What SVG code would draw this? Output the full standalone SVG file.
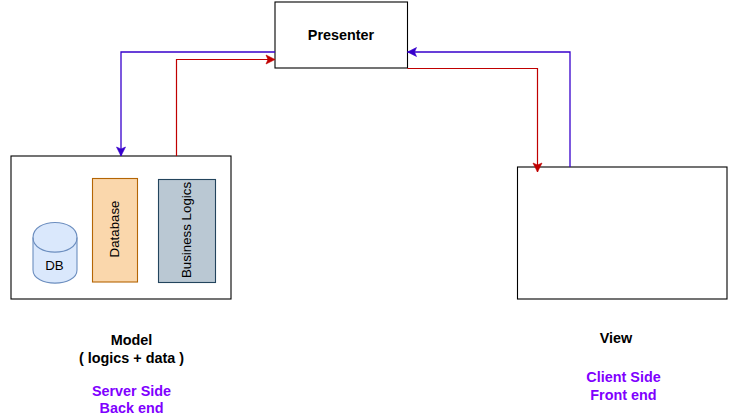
<svg xmlns="http://www.w3.org/2000/svg" width="736" height="413" viewBox="0 0 736 413">
<defs>
<marker id="ab" markerUnits="userSpaceOnUse" markerWidth="12" markerHeight="12" refX="10" refY="6" orient="auto"><path d="M1 1.500 L10 6 L1 10.500 L3 6 Z" fill="#3700CC" stroke="#3700CC" stroke-width="0.6"/></marker>
<marker id="ar" markerUnits="userSpaceOnUse" markerWidth="12" markerHeight="12" refX="10" refY="6" orient="auto"><path d="M1 1.500 L10 6 L1 10.500 L3 6 Z" fill="#C00000" stroke="#C00000" stroke-width="0.6"/></marker>
</defs>
<style>
text{font-family:"Liberation Sans",Arial,sans-serif;font-size:14.400px;text-anchor:middle;fill:#000}
.b{font-weight:bold}
.p{fill:#7F00FF}
.s{font-size:13.300px}
.box{fill:#fff;stroke:#000;stroke-width:1.100}
.blue{fill:none;stroke:#3700CC;stroke-width:1.300;marker-end:url(#ab)}
.red{fill:none;stroke:#C00000;stroke-width:1.200;marker-end:url(#ar)}
</style>
<rect width="736" height="413" fill="#fff"/>
<g id="model"><rect class="box" x="11" y="156" width="220" height="143"/></g>
<g id="view"><rect class="box" x="517.500" y="167" width="209.500" height="132"/></g>
<g id="presenter"><rect class="box" x="275" y="2" width="132.500" height="66"/><text class="b" x="341" y="40">Presenter</text></g>
<g id="db">
<path d="M33 237.500 V270 C33 287.500 77 287.500 77 270 V237.500 C77 217.500 33 217.500 33 237.500 Z" fill="#dae8fc" stroke="#6c8ebf" stroke-width="1.100"/>
<path d="M33 237.500 C33 257 77 257 77 237.500" fill="none" stroke="#6c8ebf" stroke-width="1.100"/>
<text class="s" x="54.500" y="270">DB</text>
</g>
<g id="database"><rect x="92.500" y="178.500" width="45" height="103.500" fill="#fad7ac" stroke="#b46504" stroke-width="1.100"/><text class="s" transform="translate(119 229) rotate(-90)">Database</text></g>
<g id="business-logics"><rect x="158.500" y="179.500" width="57" height="103" fill="#bac8d3" stroke="#23445d" stroke-width="1.100"/><text class="s" transform="translate(191 230) rotate(-90)">Business Logics</text></g>
<g id="connectors">
<path class="blue" d="M275 52 H121 V156"/>
<path class="red" d="M176.500 156 V59.500 H275"/>
<path class="blue" d="M570 167 V52 H407.500"/>
<path class="red" d="M407.500 68.500 H537.500 V172"/>
</g>
<g id="labels">
<text class="b" x="131.500" y="345">Model</text>
<text class="b" x="131.500" y="362.500">( logics + data )</text>
<text class="b p" x="131.500" y="396">Server Side</text>
<text class="b p" x="131.500" y="412.500">Back end</text>
<text class="b" x="616" y="343">View</text>
<text class="b p" x="623.500" y="382">Client Side</text>
<text class="b p" x="623.500" y="400">Front end</text>
</g>
</svg>
